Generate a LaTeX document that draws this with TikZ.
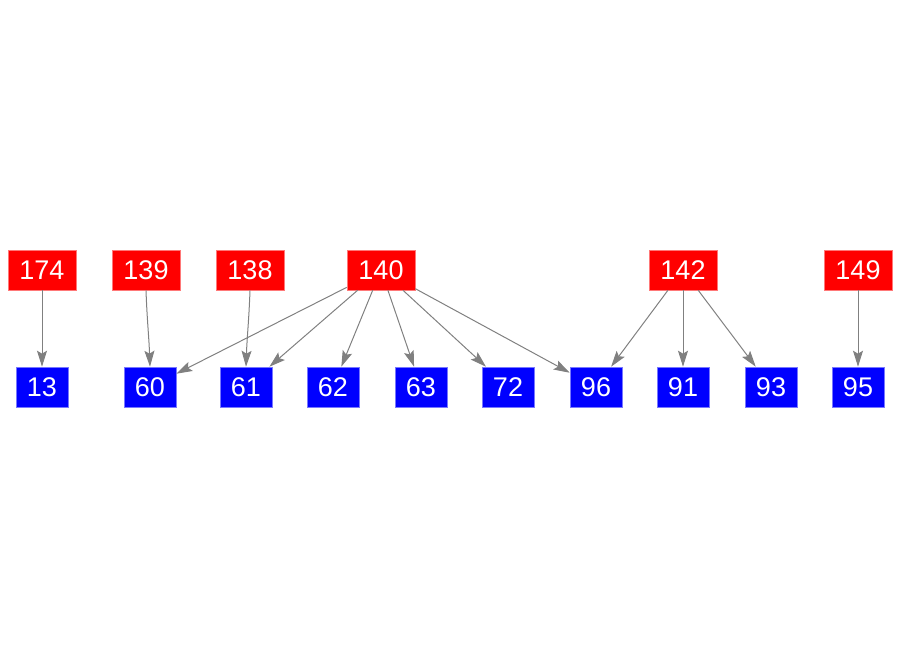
\documentclass[tikz,border=0pt]{standalone}
\usepackage{fontspec}
\setmainfont{Liberation Sans}
\usetikzlibrary{arrows.meta}
\begin{document}
\begin{tikzpicture}[x=1pt,y=-1pt,
  src/.style={fill=red,draw={rgb,255:red,255;green,120;blue,120},line width=0.6pt,minimum width=68pt,minimum height=40pt,inner sep=0pt,text=white,font=\fontsize{27}{30}\selectfont},
  dst/.style={fill=blue,draw={rgb,255:red,120;green,120;blue,255},line width=0.6pt,minimum width=52pt,minimum height=40pt,inner sep=0pt,text=white,font=\fontsize{27}{30}\selectfont},
  edge/.style={draw={rgb,255:red,128;green,128;blue,128},line width=1pt,-{Stealth[length=16pt,width=10pt,inset=3pt]}}]
\useasboundingbox (0,0) rectangle (900,656);
\node[src] (n174) at (42,270) {174};
\node[src] (n139) at (146,270) {139};
\node[src] (n138) at (250,270) {138};
\node[src] (n140) at (381,270) {140};
\node[src] (n142) at (683,270) {142};
\node[src] (n149) at (858,270) {149};
\node[dst] (n13) at (42,387) {13};
\node[dst] (n60) at (150,387) {60};
\node[dst] (n61) at (246,387) {61};
\node[dst] (n62) at (333,387) {62};
\node[dst] (n63) at (421,387) {63};
\node[dst] (n72) at (508,387) {72};
\node[dst] (n96) at (596,387) {96};
\node[dst] (n91) at (683,387) {91};
\node[dst] (n93) at (771,387) {93};
\node[dst] (n95) at (858,387) {95};
\draw[edge] (n174) -- (n13);
\draw[edge] (n139.south) to[out=-88,in=92] (n60.north);
\draw[edge] (n138.south) to[out=-92,in=88] (n61.north);
\draw[edge] (n140) -- (n60);
\draw[edge] (n140) -- (n61);
\draw[edge] (n140) -- (n62);
\draw[edge] (n140) -- (n63);
\draw[edge] (n140) -- (n72);
\draw[edge] (n140) -- (n96);
\draw[edge] (n142) -- (n96);
\draw[edge] (n142) -- (n91);
\draw[edge] (n142) -- (n93);
\draw[edge] (n149) -- (n95);
\end{tikzpicture}
\end{document}
